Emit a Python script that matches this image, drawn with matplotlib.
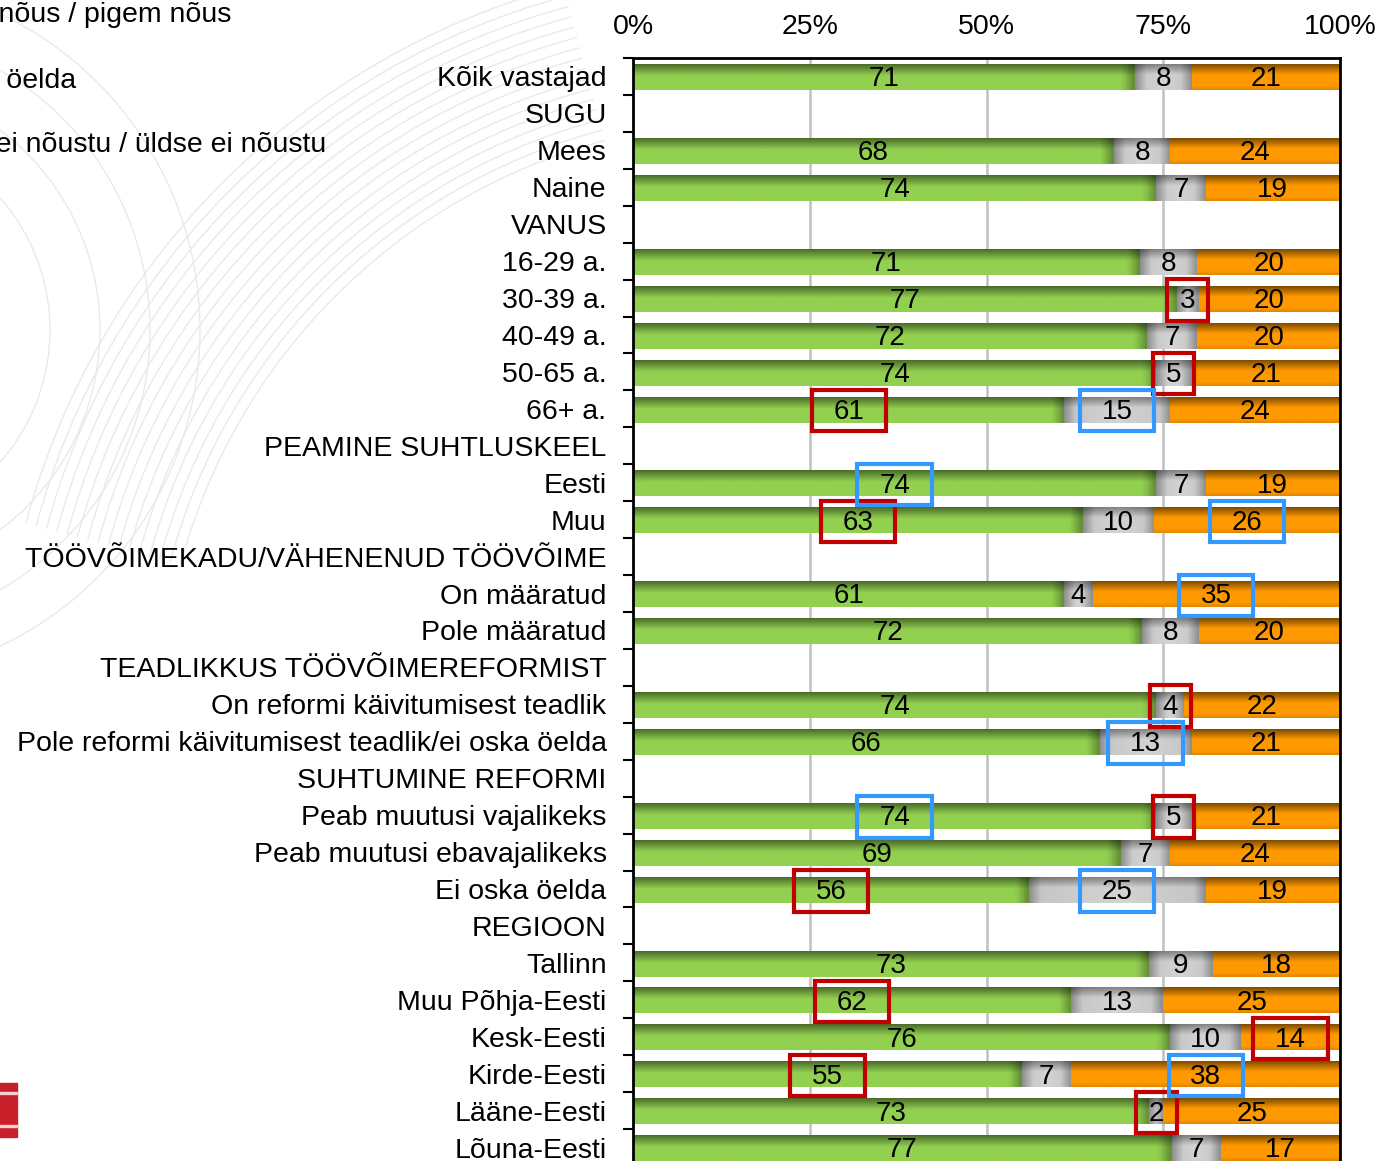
import numpy as np
import matplotlib.pyplot as plt
import matplotlib.colors as mcolors
from matplotlib.patches import Rectangle, Arc

plt.rcParams['font.family'] = ['Liberation Sans', 'DejaVu Sans']

nan = np.nan

# Rows, top to bottom
labels = ["Kõik vastajad", "SUGU", "Mees", "Naine", "VANUS", "16-29 a.", "30-39 a.",
          "40-49 a.", "50-65 a.", "66+ a.", "PEAMINE SUHTLUSKEEL", "Eesti", "Muu",
          "TÖÖVÕIMEKADU/VÄHENENUD TÖÖVÕIME", "On määratud", "Pole määratud",
          "TEADLIKKUS TÖÖVÕIMEREFORMIST", "On reformi käivitumisest teadlik",
          "Pole reformi käivitumisest teadlik/ei oska öelda", "SUHTUMINE REFORMI",
          "Peab muutusi vajalikeks", "Peab muutusi ebavajalikeks", "Ei oska öelda",
          "REGIOON", "Tallinn", "Muu Põhja-Eesti", "Kesk-Eesti", "Kirde-Eesti",
          "Lääne-Eesti", "Lõuna-Eesti"]

agree = [71, nan, 68, 74, nan, 71, 77, 72, 74, 61, nan, 74, 63, nan, 61, 72, nan, 74, 66,
         nan, 74, 69, 56, nan, 73, 62, 76, 55, 73, 77]
dont_know = [8, nan, 8, 7, nan, 8, 3, 7, 5, 15, nan, 7, 10, nan, 4, 8, nan, 4, 13,
             nan, 5, 7, 25, nan, 9, 13, 10, 7, 2, 7]
disagree = [21, nan, 24, 19, nan, 20, 20, 20, 21, 24, nan, 19, 26, nan, 35, 20, nan, 22, 21,
            nan, 21, 24, 19, nan, 18, 25, 14, 38, 25, 17]

legend_labels = ["Täiesti nõus / pigem nõus", "Ei oska öelda",
                 "Pigem ei nõustu / üldse ei nõustu"]

# highlighted labels: (row, series index)
red_marks = [("30-39 a.", 1), ("50-65 a.", 1), ("66+ a.", 0), ("Muu", 0),
             ("On reformi käivitumisest teadlik", 1), ("Peab muutusi vajalikeks", 1),
             ("Ei oska öelda", 0), ("Muu Põhja-Eesti", 0), ("Kesk-Eesti", 2),
             ("Kirde-Eesti", 0), ("Lääne-Eesti", 1)]
blue_marks = [("66+ a.", 1), ("Eesti", 0), ("Muu", 2), ("On määratud", 2),
              ("Pole reformi käivitumisest teadlik/ei oska öelda", 1),
              ("Peab muutusi vajalikeks", 0), ("Ei oska öelda", 1), ("Kirde-Eesti", 2)]

W, H = 1382, 1161
fig = plt.figure(figsize=(W / 100, H / 100), dpi=100)

# faint background swirls
bg = fig.add_axes([0, 0, 1, 1])
bg.set_xlim(0, W)
bg.set_ylim(H, 0)
bg.axis('off')
for r in np.linspace(600, 760, 16):
    bg.add_patch(Arc((760, 720), 2 * r, 2 * r, theta1=195, theta2=255,
                     color='#e6eaf0', lw=1.0))
for r in [200, 250, 300, 350]:
    bg.add_patch(Arc((-150, 330), 2 * r, 2 * r, theta1=-70, theta2=70,
                     color='#e6eaf0', lw=1.0))

# logo fragment bottom left
fig.add_artist(Rectangle((0, 1 - 1137 / H), 17 / W, 54 / H, transform=fig.transFigure,
                         color='#c8202a', zorder=3))
for yy in (1094, 1127):
    fig.add_artist(Rectangle((0, 1 - yy / H), 17 / W, 2 / H, transform=fig.transFigure,
                             color='#f3d0d0', zorder=4))

# legend texts (markers are off canvas)
for txt, xr, yc in zip(legend_labels, [231, 76, 326], [15, 81, 145]):
    fig.text(xr / W, 1 - yc / H, txt, ha='right', va='center', fontsize=20.5)

ax = fig.add_axes([633 / W, -5 / H, 707 / W, (1166 - 58) / H])
ax.set_facecolor('white')

n = len(labels)
y = np.arange(n)
vals = np.array([agree, dont_know, disagree], dtype=float)
tot = np.nansum(vals, axis=0)
tot[tot == 0] = 1
pct = vals / tot * 100
left = np.vstack([np.zeros(n), pct[0], pct[0] + pct[1]])

base_cols = ['#92d050', '#c4c4c4', '#ff9900']
bar_h = 0.7
bars = []
for k in range(3):
    bars.append(ax.barh(y + 0.02, np.nan_to_num(pct[k]), left=left[k], height=bar_h,
                        color=base_cols[k], zorder=2, linewidth=0))


def shade(c, f):
    c = np.array(mcolors.to_rgb(c))
    return np.clip(c * f, 0, 1)


# gradient overlay on each segment
for k, cont in enumerate(bars):
    for p in cont.patches:
        w = p.get_width()
        if w <= 0:
            continue
        x0, y0 = p.get_x(), p.get_y()
        hh = p.get_height()
        ny, nx = 30, 120
        t = np.linspace(0, 1, ny)[:, None]  # 0 at top (visual)
        if k == 0:
            v = 0.52 + 0.48 * np.clip(t / 0.45, 0, 1)
        elif k == 1:
            v = 0.6 + 0.4 * np.clip(t / 0.4, 0, 1)
        else:
            v = 0.5 + 0.5 * np.clip(t / 0.4, 0, 1) - 0.12 * np.clip((t - 0.85) / 0.15, 0, 1)
        s = np.linspace(0, 1, nx)[None, :] * w
        edge = 1.6
        if k == 1:
            hfac = 0.72 + 0.28 * np.clip(np.minimum(s, w - s) / edge, 0, 1)
        elif k == 0:
            hfac = 0.7 + 0.3 * np.clip((w - s) / edge, 0, 1)
        else:
            hfac = np.ones_like(s)
        f = v * hfac
        img = shade(base_cols[k], 1)[None, None, :] * f[:, :, None]
        if k == 1:
            img = np.clip(img + 0.06 * (1 - np.abs(np.linspace(-1, 1, nx)))[None, :, None], 0, 1)
        ax.imshow(img, extent=(x0, x0 + w, y0 + hh, y0), aspect='auto',
                  interpolation='bilinear', zorder=2.5)

# data labels
for k in range(3):
    for i in range(n):
        if np.isnan(vals[k, i]):
            continue
        xc = left[k, i] + pct[k, i] / 2
        ax.text(xc, i + 0.08, f"{int(vals[k, i])}", ha='center', va='center',
                fontsize=20, color='black', zorder=4)

# highlight boxes
for marks, col in ((red_marks, '#c00000'), (blue_marks, '#3399ff')):
    for lab, k in marks:
        i = labels.index(lab)
        xc = left[k, i] + pct[k, i] / 2
        bw = 10.5 if vals[k, i] >= 10 else 5.8
        bh = 1.12
        ax.add_patch(Rectangle((xc - bw / 2, i + 0.05 - bh / 2), bw, bh, fill=False,
                               edgecolor=col, lw=3, zorder=5, clip_on=False))

ax.set_xlim(0, 100)
ax.set_ylim(n - 0.5, -0.5)
ax.xaxis.tick_top()
ax.set_xticks([0, 25, 50, 75, 100])
ax.set_xticklabels(["0%", "25%", "50%", "75%", "100%"])
ax.tick_params(axis='x', length=0, pad=13, labelsize=20.5)
ax.grid(axis='x', color='#c0c0c0', lw=1.8, zorder=1)
ax.set_axisbelow(True)

ax.set_yticks(y)
ax.set_yticklabels(labels)
ax.set_yticks(np.arange(n + 1) - 0.5, minor=True)
ax.tick_params(axis='y', which='major', length=0, pad=19, labelsize=20.5)
ax.tick_params(axis='y', which='minor', length=7, width=1.5, color='black')

for side in ('left', 'top', 'right'):
    ax.spines[side].set_color('black')
    ax.spines[side].set_linewidth(2)
ax.spines['bottom'].set_visible(False)

fig.savefig('out.png', dpi=100)
